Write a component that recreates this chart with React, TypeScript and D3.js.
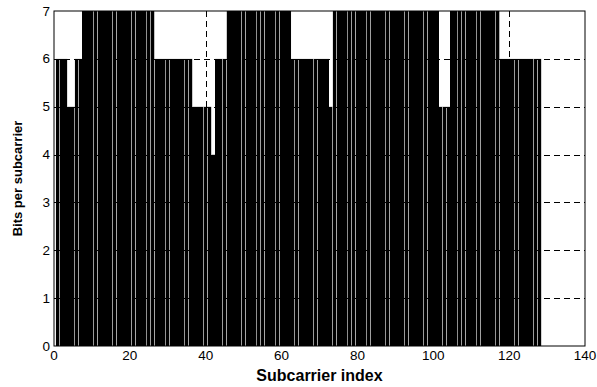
import React from 'react'
import * as d3 from 'd3'

// bits allocated to each of the 128 subcarriers (index 1..128)
const bits: number[] = [
  6, 6, 6, 5, 5, 6, 6, 7, 7, 7,
  7, 7, 7, 7, 7, 7, 7, 7, 7, 7,
  7, 7, 7, 7, 7, 7, 6, 6, 6, 6,
  6, 6, 6, 6, 6, 6, 5, 5, 5, 5,
  5, 4, 6, 6, 6, 7, 7, 7, 7, 7,
  7, 7, 7, 7, 7, 7, 7, 7, 7, 7,
  7, 7, 6, 6, 6, 6, 6, 6, 6, 6,
  6, 6, 5, 7, 7, 7, 7, 7, 7, 7,
  7, 7, 7, 7, 7, 7, 7, 7, 7, 7,
  7, 7, 7, 7, 7, 7, 7, 7, 7, 7,
  7, 5, 5, 5, 7, 7, 7, 7, 7, 7,
  7, 7, 7, 7, 7, 7, 7, 6, 6, 6,
  6, 6, 6, 6, 6, 6, 6, 6,
]

const xTicks = [0, 20, 40, 60, 80, 100, 120, 140]
const yTicks = [0, 1, 2, 3, 4, 5, 6, 7]

const width = 597
const height = 387
const margin = { top: 11, right: 12, bottom: 41, left: 54 }

function drawChart(svgRef: React.RefObject<SVGSVGElement>) {
  const svg = d3.select(svgRef.current)
  svg.selectAll('*').remove()

  const x = d3.scaleLinear().domain([0, 140]).range([margin.left, width - margin.right])
  const y = d3.scaleLinear().domain([0, 7]).range([height - margin.bottom, margin.top])

  const data = bits.map((v, i) => ({ k: i + 1, v }))

  // gray underlay, shows through the small gaps between bars
  svg.append('g')
    .selectAll('rect')
    .data(data)
    .join('rect')
      .attr('x', d => x(d.k - 0.5))
      .attr('width', d => x(d.k + 0.5) - x(d.k - 0.5))
      .attr('y', d => y(d.v))
      .attr('height', d => y(0) - y(d.v))
      .attr('fill', '#8a8a8a')

  svg.append('g')
    .attr('shape-rendering', 'crispEdges')
    .selectAll('rect')
    .data(data)
    .join('rect')
      .attr('x', d => x(d.k - 0.5))
      .attr('width', d => x(d.k + 0.5) - x(d.k - 0.5) - 0.45)
      .attr('y', d => y(d.v))
      .attr('height', d => y(0) - y(d.v))
      .attr('fill', '#000')

  // dashed grid on top
  const grid = svg.append('g')
    .attr('stroke', '#000')
    .attr('stroke-width', 1)
    .attr('stroke-dasharray', '6,4')

  grid.selectAll('line.gx')
    .data(xTicks.slice(1, -1))
    .join('line')
      .attr('class', 'gx')
      .attr('x1', d => Math.round(x(d)) + 0.5)
      .attr('x2', d => Math.round(x(d)) + 0.5)
      .attr('y1', y(7))
      .attr('y2', y(0))

  grid.selectAll('line.gy')
    .data(yTicks.slice(1, -1))
    .join('line')
      .attr('class', 'gy')
      .attr('x1', x(0))
      .attr('x2', x(140))
      .attr('y1', d => Math.round(y(d)) + 0.5)
      .attr('y2', d => Math.round(y(d)) + 0.5)

  // box
  svg.append('rect')
    .attr('x', x(0))
    .attr('y', y(7))
    .attr('width', x(140) - x(0))
    .attr('height', y(0) - y(7))
    .attr('fill', 'none')
    .attr('stroke', '#000')
    .attr('stroke-width', 1)

  const font = "'Liberation Sans', Arial, sans-serif"

  svg.append('g')
    .attr('font-family', font)
    .attr('font-size', 13.5)
    .attr('text-anchor', 'middle')
    .selectAll('text')
    .data(xTicks)
    .join('text')
      .attr('x', d => x(d))
      .attr('y', y(0) + 14)
      .text(d => d)

  svg.append('g')
    .attr('font-family', font)
    .attr('font-size', 13.5)
    .attr('text-anchor', 'end')
    .selectAll('text')
    .data(yTicks)
    .join('text')
      .attr('x', x(0) - 4)
      .attr('y', d => y(d) + 4.5)
      .text(d => d)

  svg.append('text')
    .attr('font-family', font)
    .attr('font-size', 16)
    .attr('font-weight', 'bold')
    .attr('text-anchor', 'middle')
    .attr('x', (x(0) + x(140)) / 2)
    .attr('y', height - 6)
    .text('Subcarrier index')

  svg.append('text')
    .attr('font-family', font)
    .attr('font-size', 13)
    .attr('font-weight', 'bold')
    .attr('text-anchor', 'middle')
    .attr('transform', `translate(22,${(y(0) + y(7)) / 2}) rotate(-90)`)
    .text('Bits per subcarrier')
}

const App: React.FunctionComponent = () => {
  const svg = React.useRef<SVGSVGElement>(null)

  React.useEffect(() => {
    drawChart(svg)
  }, [svg])

  return (
    <svg
      ref={svg}
      width={width}
      height={height}
      style={{ position: 'absolute', left: 0, top: 0, background: '#fff' }}
    />
  )
}

export default App
